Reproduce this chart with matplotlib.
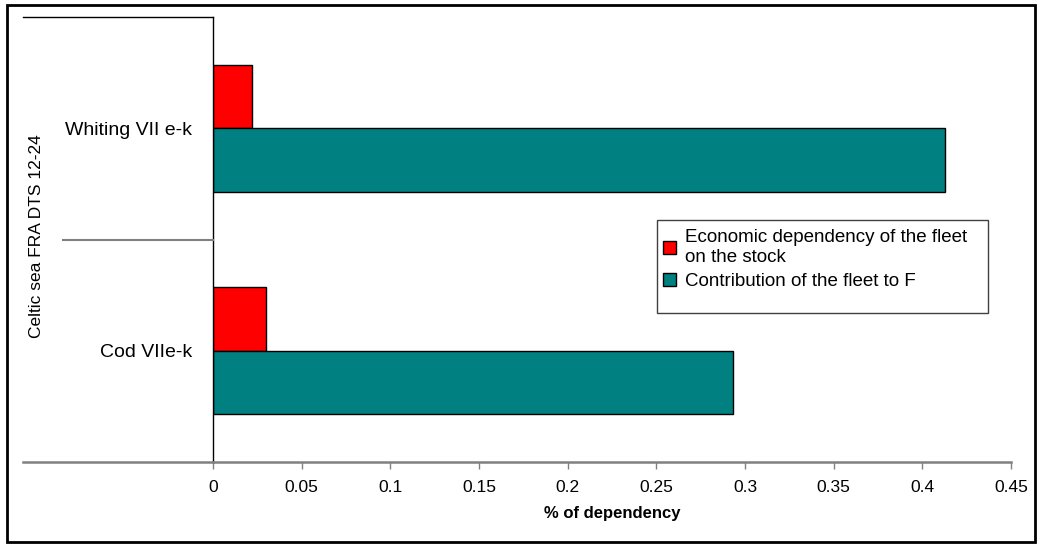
import matplotlib
matplotlib.use("Agg")
import matplotlib.pyplot as plt
from matplotlib.lines import Line2D
from matplotlib.patches import Rectangle

plt.rcParams['font.family'] = ['Liberation Sans', 'DejaVu Sans']

categories = ["Cod VIIe-k", "Whiting VII e-k"]
group_label = "Celtic sea FRA DTS 12-24"
economic = [0.030, 0.022]
contribution = [0.293, 0.413]
series_names = ["Economic dependency of the fleet\non the stock",
                "Contribution of the fleet to F"]
xticks = [0, 0.05, 0.1, 0.15, 0.2, 0.25, 0.3, 0.35, 0.4, 0.45]
xtick_labels = ["0", "0.05", "0.1", "0.15", "0.2", "0.25", "0.3", "0.35", "0.4", "0.45"]

W, H = 1037, 544
fig = plt.figure(figsize=(W / 100, H / 100), dpi=100)

def fx(px):
    return px / W

def fy(py):
    return 1 - py / H

ax = fig.add_axes([fx(213), fy(462), fx(1011) - fx(213), fy(17) - fy(462)])

pos = list(range(len(categories)))
h = 0.285
red, teal = "#ff0000", "#008080"
ax.barh([p + h / 2 for p in pos], economic, height=h, color=red,
        edgecolor="black", linewidth=1, label=series_names[0])
ax.barh([p - h / 2 for p in pos], contribution, height=h, color=teal,
        edgecolor="black", linewidth=1, label=series_names[1])

ax.set_xlim(0, 0.45)
ax.set_ylim(-0.5, 1.5)
ax.set_xticks(xticks)
ax.set_xticklabels(xtick_labels, fontsize=12.5)
ax.set_yticks(pos)
ax.set_yticklabels(categories, fontsize=14)
ax.tick_params(axis="y", length=0, pad=15)
ax.tick_params(axis="x", length=5, width=1, color="#808080", pad=8)

for s in ["top", "right"]:
    ax.spines[s].set_visible(False)
ax.spines["left"].set_color("black")
ax.spines["left"].set_linewidth(1)
ax.spines["bottom"].set_color("#808080")
ax.spines["bottom"].set_linewidth(1.8)

ax.set_xlabel("% of dependency", fontsize=12, fontweight="bold", labelpad=8)

# multi-level category lines
fig.add_artist(Line2D([fx(23), fx(213)], [fy(462), fy(462)], color="#808080", lw=1.8))
fig.add_artist(Line2D([fx(23), fx(213)], [fy(17), fy(17)], color="black", lw=1))
fig.add_artist(Line2D([fx(63), fx(213)], [fy(240), fy(240)], color="#808080", lw=1.5))
fig.text(fx(37), fy(236), group_label, rotation=90, ha="center", va="center", fontsize=12.5)

# legend box drawn separately (Excel leaves empty space at the bottom)
fig.add_artist(Rectangle((fx(657), fy(313)), fx(988) - fx(657), fy(220) - fy(313),
                         fill=False, edgecolor="#404040", lw=1, transform=fig.transFigure))
leg = ax.legend(loc="upper left", bbox_to_anchor=(fx(663), fy(229)), bbox_transform=fig.transFigure,
                fontsize=13.5, frameon=False,
                handlelength=0.7, handleheight=0.7, handletextpad=0.45,
                borderpad=0, labelspacing=0.4, borderaxespad=0)

fig.add_artist(Rectangle((fx(7), fy(542)), fx(1035) - fx(7), fy(5) - fy(542),
                         fill=False, edgecolor="black", lw=2, transform=fig.transFigure))

fig.savefig("out.png", dpi=100)
